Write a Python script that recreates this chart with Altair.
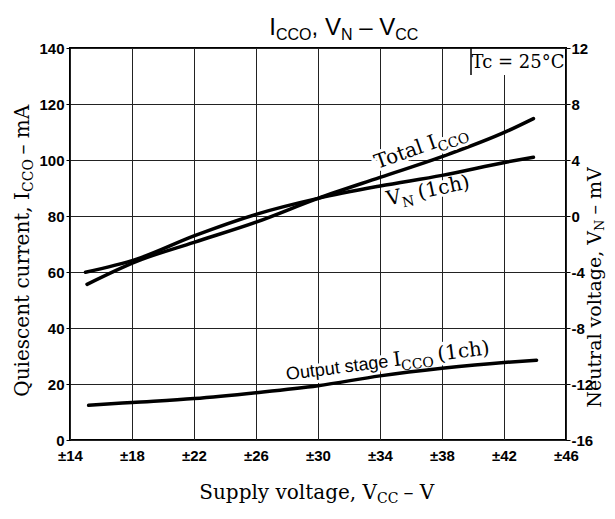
import altair as alt
import pandas as pd

# ---------------- data ----------------
total_vcc = [15.1, 18.3, 22.0, 26.0, 30.0, 34.0, 38.0, 42.2, 43.9]
total_icco = [55.6, 63.8, 70.6, 77.8, 86.3, 93.8, 101.2, 110.3, 114.8]

vn_vcc = [15.0, 18.3, 22.0, 26.0, 30.0, 34.0, 38.0, 42.2, 43.9]
vn_mv = [-4.02, -3.08, -1.42, 0.12, 1.26, 2.14, 2.90, 3.86, 4.20]

out_vcc = [15.2, 18.0, 22.0, 26.0, 30.0, 34.0, 38.0, 42.0, 44.1]
out_icco = [12.4, 13.4, 14.8, 16.9, 19.4, 22.9, 25.6, 27.7, 28.5]

x_ticks = [14, 18, 22, 26, 30, 34, 38, 42, 46]
left_ticks = [0, 20, 40, 60, 80, 100, 120, 140]
right_ticks = [-16, -12, -8, -4, 0, 4, 8, 12]

# ---------------- layout / style ----------------
W, H = 496, 392
PAD = {"left": 62, "top": 40, "right": 41, "bottom": 66}
SERIF = "DejaVu Serif"
SANS = "Liberation Sans"

W_SANS = {"I": .278, "C": .722, "O": .778, ",": .278, " ": .278, "V": .667,
          "N": .722, "–": .556, "u": .556, "t": .278, "p": .556, "s": .5,
          "a": .556, "g": .556, "e": .556}
W_SERIF = {"C": .716, "O": .787, "N": .80, "I": .367, "V": .722, " ": .318,
           "(": .39, ")": .39, "1": .636, "c": .552, "h": .642, "T": .675,
           "o": .602, "t": .401, "a": .596, "l": .321, "–": .5, "m": .949,
           "A": .722}


def tw(text, font, size):
    table = W_SERIF if font == SERIF else W_SANS
    return sum(table.get(ch, 0.6) for ch in text) * size


xscale = alt.Scale(domain=[14, 46], nice=False, zero=False)
yscale = alt.Scale(domain=[0, 140], nice=False, zero=False)
yscale_r = alt.Scale(domain=[-16, 12], nice=False, zero=False)

xaxis = alt.Axis(values=x_ticks, labelExpr="'±' + datum.value", grid=True,
                 ticks=False, domain=False, labelFlush=False, labelPadding=8,
                 title=None)
yaxis = alt.Axis(values=left_ticks, grid=True, ticks=True, tickSize=4,
                 domain=False, labelPadding=2, title=None)
yaxis_r = alt.Axis(orient="right", values=right_ticks, grid=False, ticks=True,
                   tickSize=4, domain=False, labelPadding=1, title=None,
                   labelExpr="(datum.value < 0 ? '-' : '') + abs(datum.value)")

one = pd.DataFrame({"k": [0]})


def text_layers(pieces, k, angle, at, halo=False):
    widths = [tw(t, f, s) for (t, f, s, d) in pieces]
    out = []
    for i, (t, f, s, d) in enumerate(pieces):
        core = t.strip(" ")
        lead = len(t) - len(t.lstrip(" "))
        trail = len(t) - len(t.rstrip(" "))
        if i >= k:
            dx = sum(widths[k:i]) + tw(" " * lead, f, s)
            align = "left"
        else:
            dx = -sum(widths[i + 1:k]) - tw(" " * trail, f, s)
            align = "right"
        props = dict(text=core, font=f, fontSize=s, align=align,
                     baseline="alphabetic", angle=angle % 360,
                     dx=round(dx, 2), dy=d)
        if halo:
            props.update(color="white", stroke="white", strokeWidth=6,
                         strokeJoin="round")
        else:
            props.update(color="black")
        if at[0] == "data":
            df = pd.DataFrame({"v": [at[1]], "i": [at[2]]})
            ch = alt.Chart(df).mark_text(**props).encode(
                x=alt.X("v:Q", scale=xscale, axis=xaxis),
                y=alt.Y("i:Q", scale=yscale, axis=yaxis))
        else:
            ch = alt.Chart(one).mark_text(**props).encode(
                x=alt.value(at[1]), y=alt.value(at[2]))
        out.append(ch)
    return out


# in-plot labels: (pieces, anchor piece, angle, anchor)
lab_total = ([("Total I", SERIF, 20, 0), ("CCO", SERIF, 14, 5)], 1, -19.5,
             ("data", 37.74, 104.5))
lab_vn = ([("V", SERIF, 20, 0), ("N", SERIF, 14, 5), (" (1ch)", SERIF, 20, 0)], 1, -12,
          ("data", 35.43, 84.8))
lab_out = ([("Output stage ", SANS, 18, 0), ("I", SERIF, 20, 0), ("CCO", SERIF, 14, 5),
            (" (1ch)", SERIF, 20, 0)], 1, -7.3, ("data", 34.9, 26.3))
in_labels = [lab_total, lab_vn, lab_out]

# outer texts (pixel positions relative to plot origin)
lab_title = ([("I", SANS, 24, 0), ("CCO", SANS, 16, 5), (", V", SANS, 24, 0),
              ("N", SANS, 16, 5), (" – V", SANS, 24, 0), ("CC", SANS, 16, 5)], 1, 0,
             ("px", 206, -13))
lab_xt = ([("Supply voltage, V", SERIF, 20, 0), ("CC", SERIF, 14, 4), (" – V", SERIF, 20, 0)],
          1, 0, ("px", 307, 451))
lab_yl = ([("Quiescent current, I", SERIF, 20, 0), ("CCO", SERIF, 14, 4), (" – mA", SERIF, 20, 0)],
          1, 270, ("px", -41, 144))
lab_yr = ([("Neutral voltage, V", SERIF, 19, 0), ("N", SERIF, 13, 3), (" – mV", SERIF, 19, 0)],
          1, 270, ("px", 531, 183))
out_labels = [lab_title, lab_xt, lab_yl, lab_yr]

line_props = dict(color="black", strokeWidth=3.5, strokeCap="round",
                  interpolate="monotone")

total_line = alt.Chart(pd.DataFrame({"v": total_vcc, "i": total_icco})).mark_line(
    **line_props).encode(x=alt.X("v:Q", scale=xscale, axis=xaxis),
                         y=alt.Y("i:Q", scale=yscale, axis=yaxis))
out_line = alt.Chart(pd.DataFrame({"v": out_vcc, "i": out_icco})).mark_line(
    **line_props).encode(x=alt.X("v:Q", scale=xscale, axis=xaxis),
                         y=alt.Y("i:Q", scale=yscale, axis=yaxis))
vn_line = alt.Chart(pd.DataFrame({"v": vn_vcc, "mv": vn_mv})).mark_line(
    **line_props).encode(x=alt.X("v:Q", scale=xscale, axis=xaxis),
                         y=alt.Y("mv:Q", scale=yscale_r, axis=yaxis_r))

layers = [total_line]
for p, k, a, at in in_labels:
    layers += text_layers(p, k, a, at, halo=True)
layers += [out_line]
for p, k, a, at in in_labels:
    layers += text_layers(p, k, a, at)

box = alt.Chart(one).mark_rect(color="white").encode(
    x=alt.value(401), x2=alt.value(495), y=alt.value(1), y2=alt.value(27))
box_edge = alt.Chart(one).mark_rule(color="black", strokeWidth=1.5).encode(
    x=alt.value(401), y=alt.value(0), y2=alt.value(27))
tc = alt.Chart(one).mark_text(text="Tc = 25°C", font=SERIF, fontSize=18,
                              align="center", baseline="alphabetic",
                              color="black").encode(x=alt.value(448), y=alt.value(20))
layers += [box, box_edge, tc]
for p, k, a, at in out_labels:
    layers += text_layers(p, k, a, at)

left_group = alt.layer(*layers)

chart = alt.layer(left_group, vn_line).resolve_scale(y="independent").properties(
    width=W, height=H, padding=PAD,
    autosize=alt.AutoSizeParams(type="none"), background="white"
).configure_view(stroke="black", strokeWidth=2).configure_axis(
    labelFont=SANS, labelFontSize=15, labelFontWeight="bold", labelColor="black",
    tickColor="black", gridColor="#222", gridOpacity=1, gridWidth=1
)

chart.save("out.html", embed_options={"renderer": "svg", "actions": False})
